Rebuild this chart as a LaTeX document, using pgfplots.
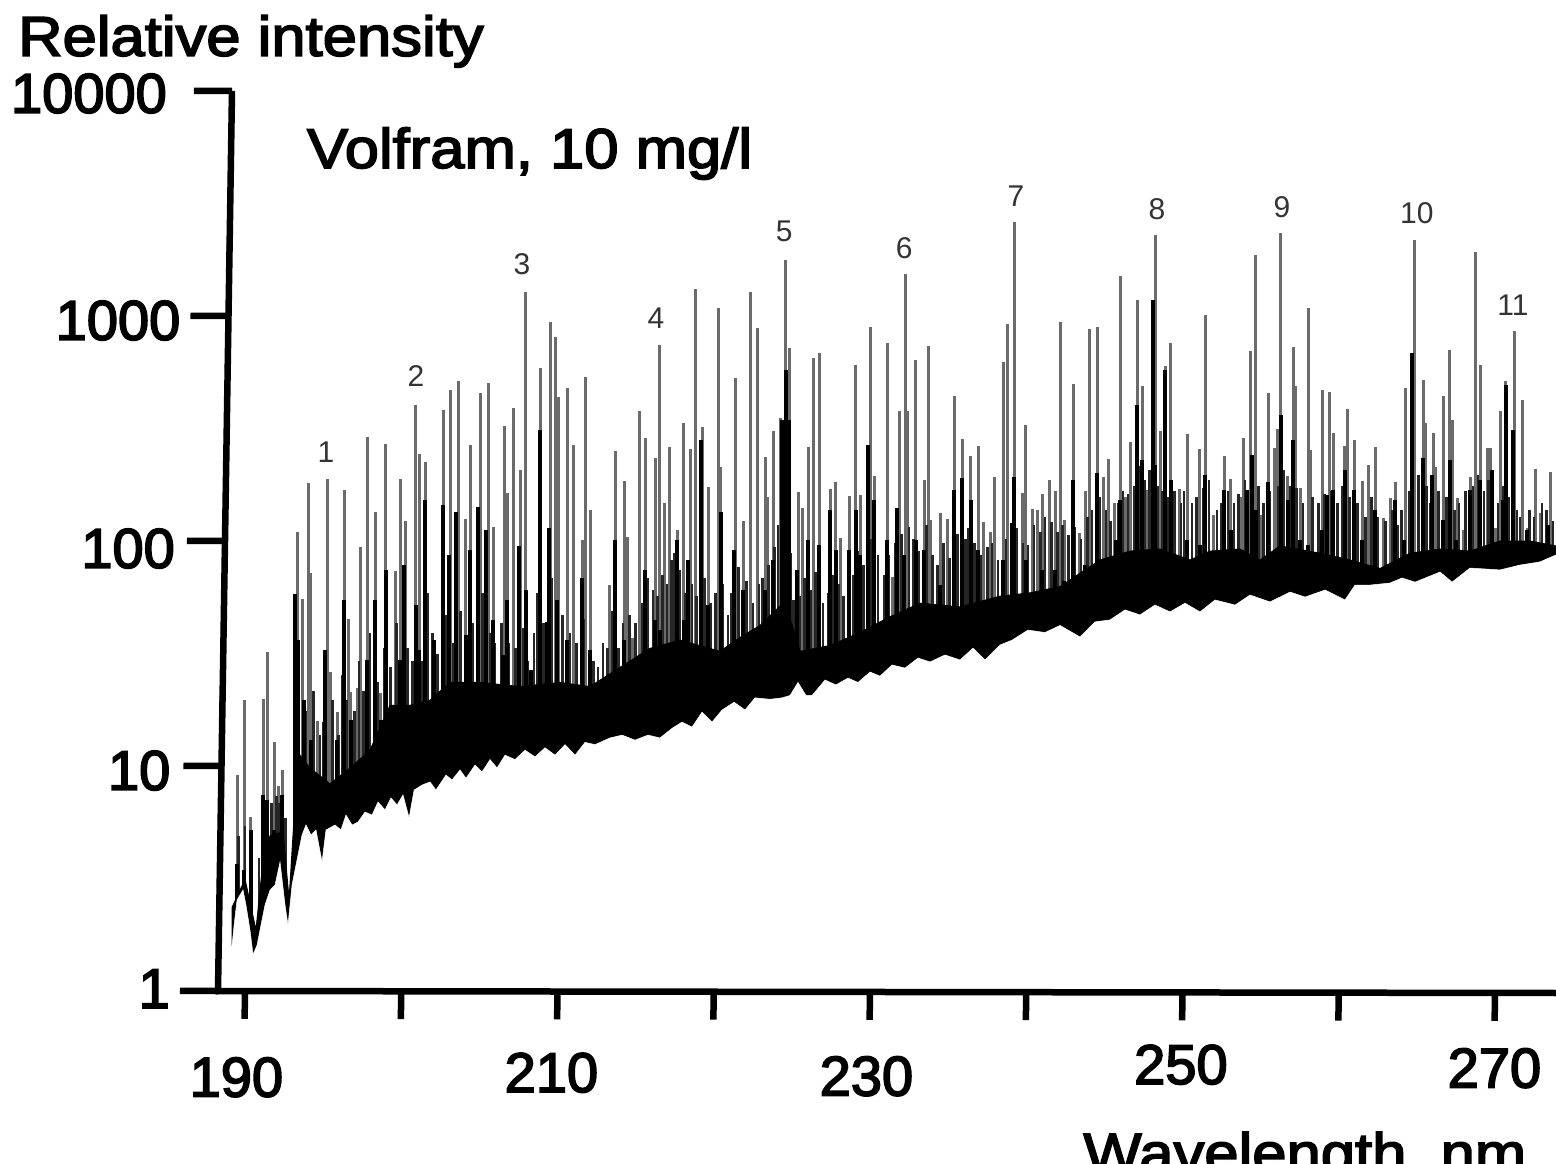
\documentclass[border=0pt]{standalone}
\usepackage{fontspec}
\setmainfont[FakeBold=3]{Liberation Sans}
\newfontfamily\thinf{Liberation Sans}
\newfontfamily\widef[FakeBold=3,FakeStretch=1.1]{Liberation Sans}
\usepackage{pgfplots}
\usepackage{pgfplotstable}
\pgfplotsset{compat=1.18}
\newcommand\lab{\fontsize{56}{60}\selectfont}
\newcommand\wlab{\widef\fontsize{56}{60}\selectfont}
\pgfplotstableread{
nm I
189.49 9.3
189.94 20.0
190.38 6.06
191.15 20.3
191.41 32.8
191.86 13.1
192.11 8.3
192.37 9.8
193.33 112
193.65 56.4
194.03 185
194.22 73.6
194.61 16.2
195.25 192
195.44 26.7
195.89 17.7
196.34 172
196.59 45.9
196.78 21.8
197.17 22.7
197.42 96
197.81 296
198.32 137
198.70 21.5
199.02 275
199.60 75
199.92 192
200.30 125
200.94 410
201.14 249
201.52 229
202.10 23.9
202.67 390
203.12 479
203.63 525
204.14 128
204.40 273
205.04 464
205.55 514
205.87 118
206.58 331
206.77 167
207.15 398
207.60 211
207.98 1306
208.88 600
209.52 960
209.84 824
210.03 446
210.61 489
210.99 273
211.57 103
211.82 547
212.08 140
213.30 65
213.68 256
214.26 189
214.45 106
214.77 37.8
215.22 386
215.66 293
216.24 239
216.50 759
216.82 151
217.14 267
217.65 114
218.03 341
218.48 262
218.80 1346
219.25 328
219.63 177
220.27 1107
220.46 218
221.42 541
221.87 125
222.38 1306
222.77 903
223.28 241
223.41 160
223.79 315
224.30 360
224.62 1811
224.82 736
225.39 169
225.65 143
226.03 267
226.35 664
226.74 699
227.44 174
227.82 187
228.08 105
228.66 162
229.10 618
229.42 163
230.00 912
230.26 199
231.09 774
231.41 70.6
231.86 386
232.24 1570
232.37 386
232.94 651
233.46 190
233.71 751
233.84 127
234.48 136
234.93 128
235.38 450
235.89 290
236.46 244
236.91 270
237.23 124
237.68 112
237.94 197
238.51 637
238.77 940
239.22 2673
239.73 167
239.98 335
240.37 142
240.69 140
241.01 165
241.46 190
241.84 170
242.16 960
242.42 127
242.99 509
243.38 111
243.76 170
244.02 894
244.53 912
244.91 197
245.23 236
245.62 151
246.00 1538
246.38 160
246.70 281
247.09 1202
247.41 499
247.73 172
248.24 2339
248.56 315
248.94 612
249.26 774
249.78 174
250.29 305
251.06 262
251.44 1032
251.95 133
252.66 244
253.10 192
253.74 160
253.87 293
254.32 713
254.70 1905
255.02 133
255.47 464
255.86 264
256.05 321
256.30 2388
256.69 199
257.07 744
257.20 499
257.58 176
258.03 1107
258.16 259
258.93 479
259.38 469
259.63 308
260.34 270
260.53 394
260.98 287
261.49 189
261.87 222
262.32 267
262.83 129
263.28 158
263.60 187
264.30 489
264.82 2222
265.39 530
265.58 341
266.03 308
266.22 218
266.67 450
267.06 721
267.25 352
267.57 158
267.95 114
268.40 197
268.72 1965
269.04 618
269.49 264
269.74 264
270.00 117
270.32 386
270.70 525
271.22 875
271.73 432
272.05 117
272.62 213
272.88 136
273.52 207
}\tallpeaks
\pgfplotstableread{
nm I
189.49 3.74
189.94 3.52
190.38 5.3
191.15 7.6
191.41 7.2
191.86 5.3
192.37 7.6
193.20 59.3
193.39 37
193.78 20
194.22 13.3
194.61 8
195.12 33.4
195.89 13.3
196.34 55.8
196.78 16.3
197.81 30.2
198.32 55.8
198.70 16.3
199.02 75.9
199.92 30.2
200.18 79.8
200.94 53
201.14 33.4
201.52 155
202.10 37
202.67 148
203.06 88.5
203.50 137
204.14 39
204.40 93
204.91 145
205.42 114
205.87 45.5
206.51 31.8
206.77 55.8
207.15 20
207.54 97
207.98 61.8
208.30 27.3
208.88 318
209.33 44.5
209.46 117
209.97 55.8
210.61 37
211.57 69.9
212.08 33.4
212.72 12
213.68 103
214.26 37
215.60 75.9
216.24 45.5
216.56 41
217.20 33.4
217.65 103
218.10 45.5
218.35 84
219.18 287
219.63 53
220.46 137
221.30 93
221.87 61.8
223.28 61.8
223.79 84
224.37 352
224.62 587
224.82 352
225.33 75.9
226.03 103
226.74 98
227.44 140
227.82 93
228.66 93
229.10 140
229.36 88.5
229.87 273
230.26 155
231.09 103
231.73 143
232.18 88.5
232.94 103
233.46 93
234.48 65
235.38 172
235.89 195
236.46 155
236.91 93
238.51 84
239.09 123
239.22 197
239.98 84
241.01 75.9
241.84 75.9
242.42 68
242.99 190
243.76 80
244.53 205
245.74 103
246.00 155
247.09 410
247.41 234
248.11 1202
248.24 222
248.88 587
249.26 190
250.29 103
251.12 98
251.44 200
252.66 172
253.10 114
254.13 172
254.45 246
254.70 140
255.47 187
256.30 371
256.75 155
257.07 287
257.52 103
258.03 98
258.93 114
259.25 163
259.63 172
260.40 211
260.98 172
261.49 103
262.32 140
263.60 155
264.18 103
264.69 699
265.39 239
265.97 200
266.67 127
267.12 234
267.50 103
268.40 172
269.04 190
269.81 211
270.51 155
270.70 504
271.15 318
272.05 114
273.39 120
}\darkpeaks
\pgfplotstableread{
nm I
189.60 5
190.00 5.5
190.90 4
191.30 6
191.70 7
192.00 7.5
192.20 7
192.60 6
193.45 30
193.90 18
194.40 22
194.80 14
195.00 16
195.60 20
196.00 14
196.20 26
196.50 20
197.00 18
197.30 30
197.60 22
198.00 40
198.50 24
198.90 34
199.30 28
199.70 44
200.10 38
200.40 34
200.70 30
201.00 48
201.30 30
201.70 60
202.00 40
202.30 32
202.90 48
203.30 36
203.80 50
204.20 38
204.60 44
205.20 60
205.70 40
206.00 36
206.40 44
206.90 36
207.30 34
207.80 42
208.10 30
208.50 40
208.70 60
209.10 44
209.60 70
209.90 56
210.30 48
210.80 40
211.20 36
211.70 46
212.30 30
212.60 28
212.90 36
213.20 34
213.50 50
213.90 34
214.20 44
214.60 48
215.00 44
215.40 54
215.80 70
216.10 62
216.40 58
216.70 72
217.00 66
217.30 84
217.50 90
217.80 76
218.20 60
218.60 66
218.90 58
219.40 70
219.80 54
220.10 60
220.60 66
220.90 48
221.10 60
221.60 78
222.10 68
222.50 54
222.90 66
223.10 70
223.50 80
223.90 96
224.10 120
224.50 200
224.95 90
225.10 56
225.50 58
225.80 70
226.20 62
226.50 74
227.00 54
227.30 60
227.60 72
228.00 66
228.30 58
228.90 72
229.20 92
229.60 80
230.10 104
230.50 88
230.90 72
231.20 88
231.60 100
232.00 110
232.50 118
232.80 104
233.10 92
233.60 120
234.00 88
234.30 80
234.70 100
235.10 86
235.60 110
236.10 104
236.30 116
236.70 100
237.10 88
237.50 96
237.80 100
238.20 84
238.70 104
239.40 116
239.80 100
240.10 98
240.50 120
240.90 112
241.20 130
241.60 124
242.00 112
242.30 120
242.70 108
243.10 118
243.50 104
243.90 130
244.20 140
244.70 160
245.10 140
245.40 125
245.90 150
246.20 170
246.50 165
246.90 180
247.20 220
247.60 190
247.90 210
248.40 180
248.70 170
249.10 160
249.50 170
249.90 150
250.10 170
250.60 150
250.90 160
251.30 175
251.70 190
252.20 140
252.50 150
252.90 170
253.30 150
253.60 165
254.00 190
254.50 220
254.85 180
255.20 150
255.60 170
256.10 180
256.50 210
256.90 180
257.30 175
257.70 150
258.30 160
258.70 150
259.10 165
259.50 170
259.90 150
260.20 180
260.70 160
261.20 150
261.70 130
262.10 160
262.50 130
263.00 125
263.40 140
263.80 120
264.00 140
264.50 170
265.10 200
265.60 180
265.85 150
266.40 170
266.90 160
267.40 140
267.70 150
268.10 170
268.60 180
268.90 200
269.30 170
269.60 190
270.20 150
270.50 180
270.90 160
271.40 140
271.60 130
272.20 140
272.50 130
273.00 150
273.30 140
273.70 125
}\midpeaks
\pgfplotstableread{
nm I
189.17 2.4
190.00 3.2
190.70 1.9
191.09 3.5
191.60 5
192.43 5.2
192.82 2.6
193.14 6
193.26 12
194.16 10
195.44 8.5
196.72 10
198.00 12
199.28 19
200.56 19
201.84 20
203.12 24
205.04 24
207.60 23
210.16 24
212.08 23
214.00 28
215.92 34
217.84 37
220.40 33
221.68 38
222.96 43
224.56 55
225.52 33
227.44 35
229.36 40
231.28 47
233.20 54
235.76 52
238.32 58
240.24 60
242.16 64
244.72 84
246.64 92
248.56 94
250.48 84
251.76 92
253.68 94
254.96 84
256.24 97
258.80 90
260.72 84
262.64 77
264.56 90
266.48 94
268.40 92
270.32 102
272.24 102
273.90 97
}\bandtop
\pgfplotstableread{
nm I
188.27 1.2
189.17 1.63
189.30 2.0
189.49 2.59
189.87 2.87
190.06 2.46
190.32 1.9
190.51 1.48
190.77 1.63
191.02 2.0
191.28 2.46
191.60 2.87
191.92 3.02
192.24 3.82
192.56 2.46
192.75 2.0
193.01 3.02
193.26 3.7
193.65 5.04
193.90 5.58
194.22 5.04
194.54 5.3
194.93 3.82
195.18 5.3
195.76 5.58
196.14 5.3
196.46 6.18
196.85 5.58
197.23 5.75
197.68 6.37
198.13 6.18
198.51 7.06
198.96 6.51
199.34 7.36
199.73 6.85
200.11 7.59
200.50 6.0
200.82 7.98
201.33 8.4
201.84 8.67
202.22 7.98
202.86 9.3
203.25 8.85
203.76 9.8
204.14 9.0
204.72 10.3
205.17 9.6
205.68 10.9
206.13 10
206.64 11.4
207.28 10.9
207.92 12
208.56 11.2
209.20 12.3
209.84 11.4
210.48 12.7
211.12 11.4
211.76 13
212.40 12.7
213.36 13.6
214.13 14
214.96 13.3
215.79 14
216.56 13.6
217.33 15
217.97 16
218.61 15.2
219.25 17.7
219.89 16
220.53 18.1
221.30 19.6
222.00 18.1
222.64 20.5
223.60 20.2
224.37 20.5
224.88 21
225.39 24
225.90 21
226.29 21
227.12 24.6
227.82 23.4
228.59 25.1
229.23 24
230.00 26.7
230.64 25.6
231.41 28.7
232.24 27.8
233.07 30.8
233.84 29.6
234.80 31.8
235.76 30.2
236.59 34.1
237.36 30.2
238.32 35.2
239.09 37
240.11 41
241.20 40
242.16 43
243.44 38.2
244.40 44.6
245.36 45.5
246.32 50.4
247.28 47.9
248.24 53
249.20 49.4
250.16 54
251.12 49.4
252.08 55.8
253.36 53
254.32 58.7
255.60 54.7
256.88 60.5
257.84 57.5
259.12 61.8
260.40 55.8
261.04 65
262.00 65
263.28 66.4
264.05 69.9
264.88 67
266.48 74.3
267.25 67
268.40 77.4
270.32 75.9
271.60 79.8
272.88 82.4
273.90 88.5
}\lowerenv
\newcommand\peakno[3]{\node[font=\thinf\fontsize{30}{32}\selectfont,black!80] at (axis cs:#1,#2) {#3};}
\begin{document}
\begin{tikzpicture}[x=1pt,y=1pt]
\begin{axis}[name=data,at={(218pt,170pt)},anchor=south west,x=15.625pt,y=97.72pt,ymode=log,
  xmin=188.27,xmax=273.9,ymin=1,ymax=10000,hide axis,clip=true]
\addplot[ycomb,no marks,black!58,line width=3pt] table[x=nm,y=I] {\tallpeaks};
\addplot[ycomb,no marks,black!85,line width=2.6pt] table[x=nm,y=I] {\midpeaks};
\addplot[ycomb,no marks,black,line width=3.5pt] table[x=nm,y=I] {\darkpeaks};
\addplot[fill=black,draw=black,line width=1pt] table[x=nm,y=I] {\bandtop} \closedcycle;
\addplot[fill=white,draw=white,line width=.5pt] table[x=nm,y=I] {\lowerenv} \closedcycle;
\peakno{195.18}{254}{1}
\peakno{200.94}{552}{2}
\peakno{207.73}{1738}{3}
\peakno{216.3}{1000}{4}
\peakno{224.5}{2436}{5}
\peakno{232.18}{2047}{6}
\peakno{239.34}{3487}{7}
\peakno{248.37}{3051}{8}
\peakno{256.37}{3114}{9}
\peakno{265.0}{2929}{10}
\peakno{271.15}{1142}{11}
\end{axis}
\begin{axis}[at={(218pt,170pt)},anchor=south west,x={(15.625pt,-0.0233pt)},y={(1.52pt,97.72pt)},ymode=log,
  xmin=188.27,xmax=273.9,ymin=1,ymax=10000,axis lines=left,axis line style={-,line width=6.5pt},
  tick style={black,line width=6.5pt},major tick length=38pt,tick align=outside,
  x tick style={/pgfplots/major tick length=28pt},
  minor tick num=0,
  xtick={190,200,...,270},
  xticklabels={\hspace*{-16pt}\raisebox{-67pt}[0pt][0pt]{190},,\hspace*{-11pt}\raisebox{-62pt}[0pt][0pt]{210},,\hspace*{-6pt}\raisebox{-65pt}[0pt][0pt]{230},,\hspace*{-2pt}\raisebox{-53pt}[0pt][0pt]{250},,\raisebox{-56pt}[0pt][0pt]{270}},
  ytick={1,10,100,1000,10000},
  yticklabels={\raisebox{-17pt}[0pt][0pt]{1}\hspace*{10pt},\raisebox{-24pt}[0pt][0pt]{10}\hspace*{13pt},\raisebox{-27pt}[0pt][0pt]{100}\hspace*{12pt},\raisebox{-24pt}[0pt][0pt]{1000}\hspace*{10pt},\raisebox{-22pt}[0pt][0pt]{10000}\hspace*{27pt}},
  ticklabel style={font=\lab,inner sep=0pt},
  title={Volfram, 10 mg/l},title style={at={(axis description cs:0.0657,0.908)},anchor=base west,font=\wlab,inner sep=0pt},
  xlabel={Wavelength, nm},xlabel style={at={(axis description cs:0.64,-0.199)},anchor=base west,font=\wlab,inner sep=0pt},
  ylabel={Relative intensity},ylabel style={at={(axis description cs:-0.148,1.039)},anchor=base west,rotate=-90,font=\wlab,inner sep=0pt},
  clip=false]
\end{axis}
\pgfresetboundingbox
\path[use as bounding box] (0,0) rectangle (1556pt,1163pt);
\end{tikzpicture}
\end{document}
